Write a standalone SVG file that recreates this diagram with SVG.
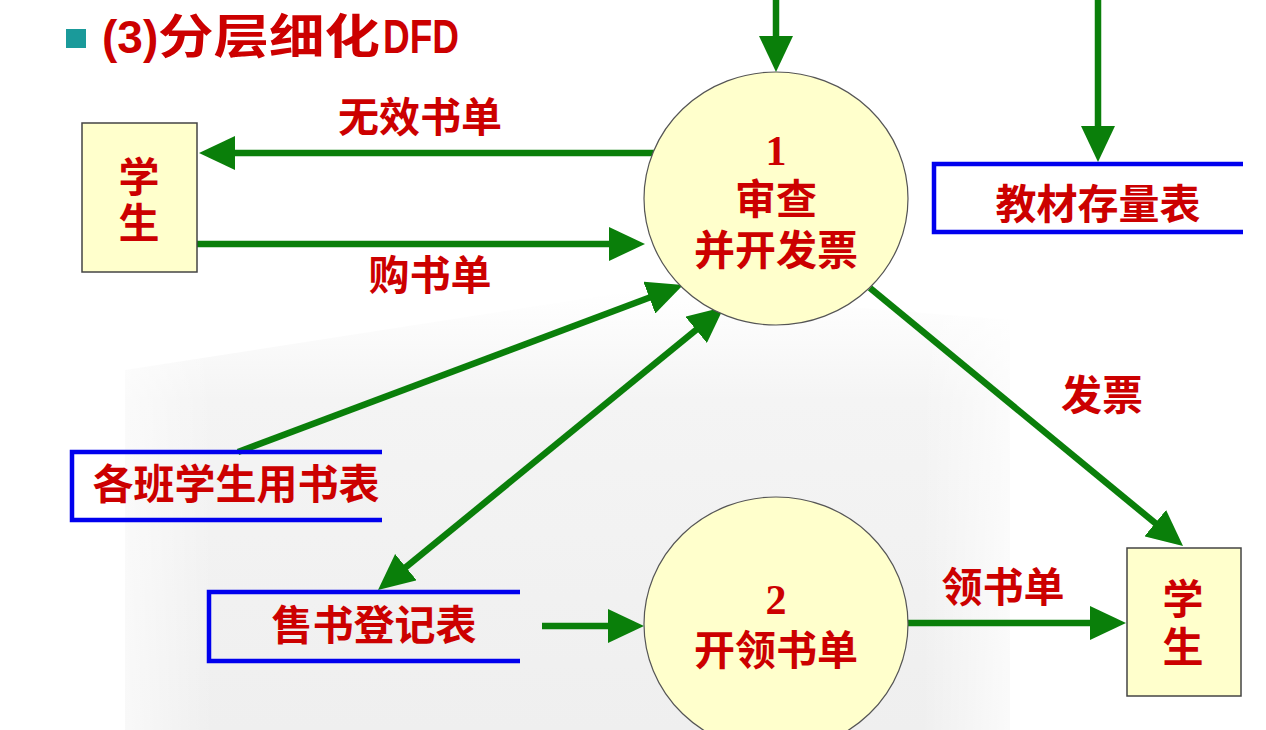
<svg xmlns="http://www.w3.org/2000/svg" width="1266" height="730" viewBox="0 0 1266 730">
<style>
.t{font-family:"Liberation Sans","Noto Sans CJK SC",sans-serif;font-weight:bold;fill:#CC0000;text-anchor:middle}
.lbl{font-size:41px}
.num{font-family:"Liberation Serif",serif;font-weight:bold;font-size:42px}
.ent{fill:#FFFFCC;stroke:#444;stroke-width:1.5}
.proc{fill:#FFFFCC;stroke:#555;stroke-width:1.2}
.store{fill:none;stroke:#0000EE;stroke-width:4.5}
.flow{fill:none;stroke:#0A7F0A;stroke-width:6.5}
</style>
<defs>
<marker id="ah" viewBox="0 0 36 34" refX="16" refY="17" markerWidth="36" markerHeight="34" markerUnits="userSpaceOnUse" orient="auto-start-reverse">
<path d="M0,0 L36,17 L0,34 Z" fill="#0A7F0A"/>
</marker>
<linearGradient id="bg" x1="0" y1="0" x2="0" y2="1">
<stop offset="0" stop-color="#f5f5f5" stop-opacity="0"/>
<stop offset="0.25" stop-color="#f4f4f4"/>
<stop offset="1" stop-color="#efefef"/>
</linearGradient>
<linearGradient id="bgx" x1="0" y1="0" x2="1" y2="0">
<stop offset="0" stop-color="#ffffff" stop-opacity="0.6"/>
<stop offset="0.1" stop-color="#ffffff" stop-opacity="0"/>
<stop offset="0.9" stop-color="#ffffff" stop-opacity="0"/>
<stop offset="1" stop-color="#ffffff" stop-opacity="0.7"/>
</linearGradient>
</defs>
<rect width="1266" height="730" fill="#ffffff"/>
<polygon points="125,370 640,290 1010,320 1010,730 125,730" fill="url(#bg)"/>
<rect x="125" y="290" width="885" height="440" fill="url(#bgx)"/>
<g id="title">
<rect x="66" y="29" width="20" height="19" fill="#1A9A9A"/>
<text y="53" font-family="Liberation Sans,Noto Sans CJK SC,sans-serif" font-weight="bold" font-size="46" fill="#CC0000"><tspan x="102">(3)</tspan><tspan x="158" font-family="Noto Sans CJK SC,sans-serif" font-size="47" textLength="222" lengthAdjust="spacingAndGlyphs">分层细化</tspan><tspan x="383" font-size="48" textLength="76" lengthAdjust="spacingAndGlyphs">DFD</tspan></text>
</g>
<g id="connectors">
<path class="flow" d="M776,0 L776,52" marker-end="url(#ah)"/>
<path class="flow" d="M1098,0 L1098,142" marker-end="url(#ah)"/>
<path class="flow" d="M655,153 L219,153" marker-end="url(#ah)"/>
<path class="flow" d="M197,244 L625,244" marker-end="url(#ah)"/>
<path class="flow" d="M238,452 L664.3,292" marker-end="url(#ah)"/>
<path class="flow" d="M393.5,577.3 L708.5,319.7" marker-start="url(#ah)" marker-end="url(#ah)"/>
<path class="flow" d="M542,626 L624,626" marker-end="url(#ah)"/>
<path class="flow" d="M908,623 L1106,623" marker-end="url(#ah)"/>
<path class="flow" d="M870,288 L1167.6,533.3" marker-end="url(#ah)"/>
<text class="t lbl" x="420" y="132">无效书单</text>
<text class="t lbl" x="430" y="290">购书单</text>
<text class="t lbl" x="1102" y="410">发票</text>
<text class="t lbl" x="1003" y="602">领书单</text>
</g>
<g id="student1">
<rect class="ent" x="82" y="123" width="115" height="149"/>
<text class="t lbl"><tspan x="139" y="192">学</tspan><tspan x="139" y="238">生</tspan></text>
</g>
<g id="process1">
<ellipse class="proc" cx="776" cy="198.5" rx="132" ry="126.5"/>
<text class="t lbl"><tspan class="num" x="776" y="165">1</tspan><tspan x="776" y="214">审查</tspan><tspan x="776" y="265">并开发票</tspan></text>
</g>
<g id="store-stock">
<path class="store" d="M1243,164 L934,164 L934,232 L1243,232"/>
<text class="t lbl" x="1098" y="219">教材存量表</text>
</g>
<g id="store-class">
<path class="store" d="M382,452 L72,452 L72,520 L382,520"/>
<text class="t lbl" x="236" y="499">各班学生用书表</text>
</g>
<g id="store-sales">
<path class="store" d="M520,592 L209,592 L209,661 L520,661"/>
<text class="t lbl" x="374" y="640">售书登记表</text>
</g>
<g id="process2">
<ellipse class="proc" cx="776" cy="624" rx="132" ry="127"/>
<text class="t lbl"><tspan class="num" x="776" y="614">2</tspan><tspan x="776" y="665">开领书单</tspan></text>
</g>
<g id="student2">
<rect class="ent" x="1127" y="548" width="114" height="148"/>
<text class="t lbl"><tspan x="1183" y="614">学</tspan><tspan x="1183" y="662">生</tspan></text>
</g>
</svg>
